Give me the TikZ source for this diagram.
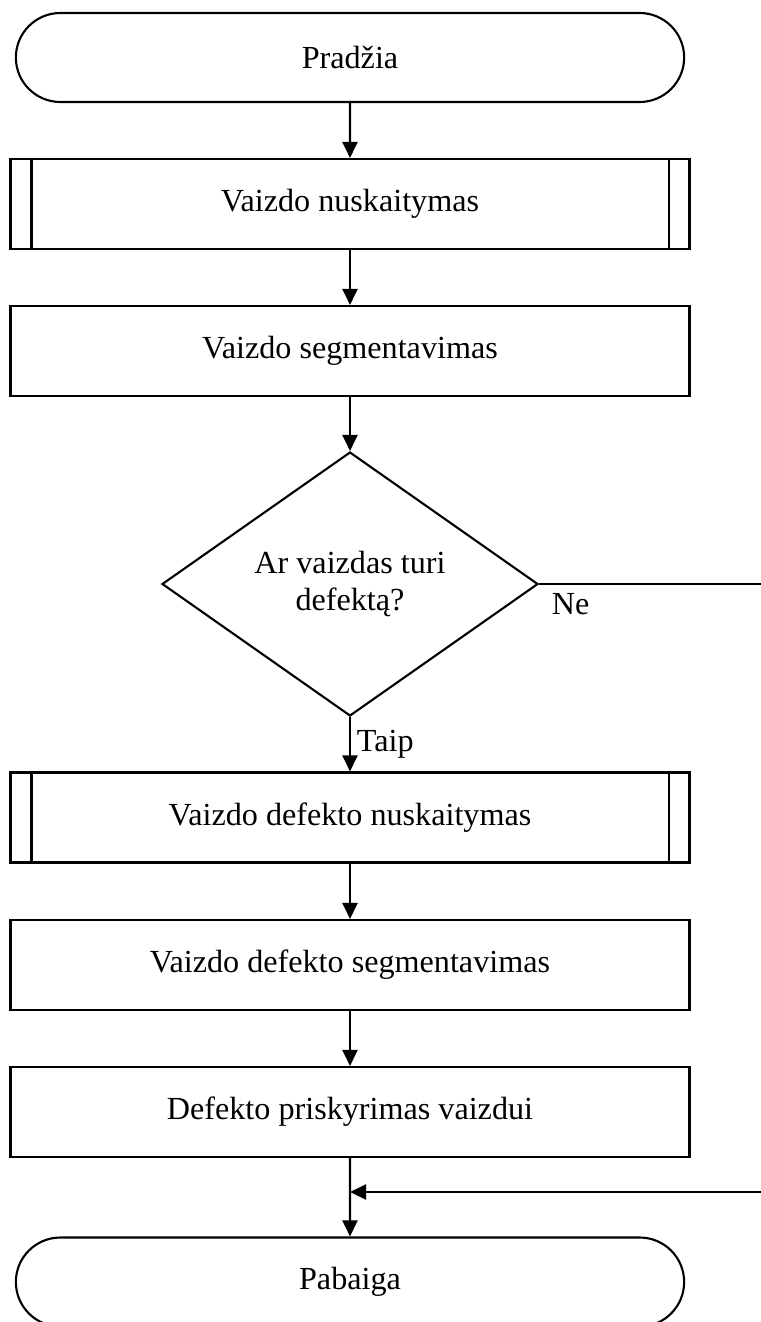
\documentclass[tikz,border=0pt]{standalone}
\usepackage{fontspec}
\setmainfont{Liberation Serif}
\usetikzlibrary{shapes.geometric, shapes.misc, arrows.meta, calc}
\tikzset{
    term/.style={rounded rectangle, draw, line width=1.2pt, minimum width=13.6cm, minimum height=1.78cm},
    proc/.style={rectangle, draw, line width=1.2pt, minimum width=13.58cm, minimum height=1.8cm},
    decide/.style={diamond, draw, line width=1.2pt, minimum width=7.52cm, minimum height=5.28cm, inner sep=0pt, align=center},
    flow/.style={line width=1.2pt, -{Triangle[length=0.32cm, width=0.3cm]}}
}

\begin{document}
\begin{tikzpicture}[font=\fontsize{18.3}{21}\selectfont]
    \useasboundingbox (0,0) rectangle (15.22,-26.44);
    % Main column
    \node[term] (start) at (7, -1.15) {Pradžia};
    \node[proc] (read) at (7, -4.08) {Vaizdo nuskaitymas};
    \node[proc] (seg) at (7, -7.02) {Vaizdo segmentavimas};
    \node[decide] (check) at (7, -11.68) {Ar vaizdas turi\\defektą?};
    \node[proc] (defread) at (7, -16.35) {Vaizdo defekto nuskaitymas};
    \node[proc] (defseg) at (7, -19.3) {Vaizdo defekto segmentavimas};
    \node[proc] (assign) at (7, -22.24) {Defekto priskyrimas vaizdui};
    \node[term] (end) at (7, -25.64) {Pabaiga};
    % Side bars of the predefined steps
    \foreach \n in {read, defread} {
        \draw[line width=1.2pt] ([xshift=0.44cm]\n.north west) -- ([xshift=0.44cm]\n.south west);
        \draw[line width=1.2pt] ([xshift=-0.44cm]\n.north east) -- ([xshift=-0.44cm]\n.south east);
    }
    % Flow
    \draw[flow] (start) -- (read);
    \draw[flow] (read) -- (seg);
    \draw[flow] (seg) -- (check);
    \draw[flow] (check) -- node[anchor=west] {Taip} (defread);
    \draw[flow] (defread) -- (defseg);
    \draw[flow] (defseg) -- (assign);
    \draw[flow] (assign) -- (end);
    % "Ne" branch runs off the right edge and comes back above the end
    \coordinate (neout) at (15.4, -11.68);
    \coordinate (nein) at (15.4, -23.84);
    \coordinate (merge) at (7, -23.84);
    \draw[line width=1.2pt] (check.east) -- node[pos=0, anchor=north west, xshift=0.12cm, yshift=-0.05cm] {Ne} (neout);
    \draw[flow] (nein) -- (merge);
\end{tikzpicture}
\end{document}
